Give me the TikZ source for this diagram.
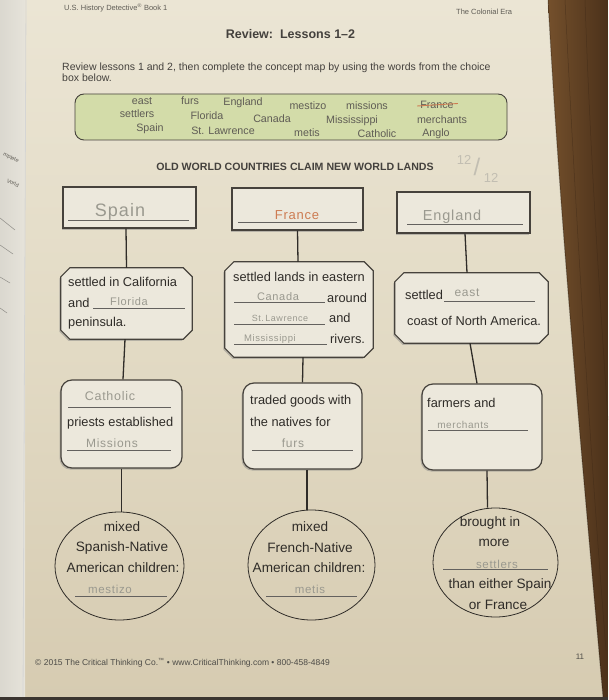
\documentclass[tikz,border=0pt]{standalone}
\usepackage{fontspec}
\setmainfont{Liberation Sans}
\newfontfamily\hwfont{Liberation Sans}[LetterSpace=6]
\usetikzlibrary{shapes.geometric,shadows}
\definecolor{papertop}{HTML}{EBE5D4}
\definecolor{papermid}{HTML}{E2DAC4}
\definecolor{paperbot}{HTML}{D6CBB1}
\definecolor{leftpage}{HTML}{E6E3DA}
\definecolor{ink}{HTML}{2F2C28}
\definecolor{grayink}{HTML}{5F5C55}
\definecolor{boxline}{HTML}{46423C}
\definecolor{boxfill}{HTML}{ECE8DC}
\definecolor{choicefill}{HTML}{D3DCA9}
\definecolor{pencil}{HTML}{9A998F}
\definecolor{lightpencil}{HTML}{C2BEB2}
\definecolor{orangehw}{HTML}{CD7C52}
\definecolor{wood}{HTML}{74502C}
\definecolor{wooddark}{HTML}{4B311A}
\definecolor{band}{HTML}{3B3530}
\newcommand\octpath[2]{%
  \draw[box] ([xshift=#2]#1.north west) -- ([xshift=-#2]#1.north east)
    -- ([yshift=-#2]#1.north east) -- ([yshift=#2]#1.south east)
    -- ([xshift=-#2]#1.south east) -- ([xshift=#2]#1.south west)
    -- ([yshift=#2]#1.south west) -- ([yshift=-#2]#1.north west) -- cycle;}
\begin{document}
\begin{tikzpicture}[x=1pt,y=-1pt,
  box/.style={draw=boxline, line width=1.2pt, fill=boxfill,
    drop shadow={shadow xshift=-1.4pt, shadow yshift=-1.6pt, opacity=0.45}},
  topbox/.style={box, rectangle, inner sep=0pt},
  anchorbox/.style={rectangle, inner sep=0pt},
  roundbox/.style={box, rectangle, rounded corners=11pt, inner sep=0pt},
  oval/.style={draw=ink, line width=0.8pt, ellipse, inner sep=0pt},
  conn/.style={draw=ink, line width=1.3pt},
  uline/.style={draw=ink!75, line width=0.6pt},
  bt/.style={inner sep=0pt, anchor=west, text=ink, font=\fontsize{12.8}{15}\selectfont},
  et/.style={inner sep=0pt, text=ink, font=\fontsize{13.6}{16}\selectfont},
  cw/.style={inner sep=0pt, text=grayink, font=\fontsize{10.7}{12}\selectfont},
  hw/.style={inner sep=0pt, text=pencil, font=\hwfont\fontsize{11}{12}\selectfont},
  small/.style={inner sep=0pt, anchor=west, text=grayink, font=\fontsize{7.5}{9}\selectfont}
]
\useasboundingbox (0,0) rectangle (608,700);
% page
\shade[top color=papertop, bottom color=paperbot, middle color=papermid] (0,0) rectangle (608,700);
\shade[left color=leftpage!95!black, right color=leftpage] (0,0) rectangle (25,700);
\draw[ink!20, line width=0.8pt] (26,0) -- (23,700);
\node[inner sep=0pt, rotate=-25, text=grayink, font=\fontsize{5.5}{6}\selectfont] (lp1) at (11,158) {mplete};
\node[inner sep=0pt, rotate=-25, text=grayink, font=\fontsize{5.5}{6}\selectfont] (lp2) at (13,183) {Vorld};
\draw[grayink!70, line width=0.5pt] (0,218) -- (15,230);
\draw[grayink!70, line width=0.5pt] (0,245) -- (13,254);
\draw[grayink!70, line width=0.5pt] (0,277) -- (10,283);
\draw[grayink!70, line width=0.5pt] (0,308) -- (7,313);
% wood
\shade[left color=wood, right color=wooddark] (548,0) .. controls (560,220) and (582,460) .. (603,697) -- (608,697) -- (608,0) -- cycle;
\draw[wooddark!80!black, line width=0.5pt, opacity=0.5] (565,0) .. controls (575,200) and (590,450) .. (606,650);
\draw[wooddark!80!black, line width=0.5pt, opacity=0.5] (585,0) .. controls (590,150) and (600,300) .. (608,420);
\draw[black, opacity=0.25, line width=1pt] (548,0) .. controls (560,220) and (582,460) .. (603,697);
\fill[band] (0,697) rectangle (608,700);

% header
\node[small] (hdr1) at (64,8) {U.S. History Detective\textsuperscript{®} Book 1};
\node[small] (hdr2) at (456,12) {The Colonial Era};
\node[inner sep=0pt, text=ink!90, font=\bfseries\fontsize{12.5}{14}\selectfont] (title) at (290.5,34) {Review:\ \ Lessons 1–2};
\node[inner sep=0pt, anchor=west, text=ink!90, font=\fontsize{10.5}{11}\selectfont] (ins1) at (62,68) {Review lessons 1 and 2, then complete the concept map by using the words from the choice};
\node[inner sep=0pt, anchor=west, text=ink!90, font=\fontsize{10.5}{11}\selectfont] (ins2) at (62,77.5) {box below.};

% choice box
\node[draw=boxline, line width=0.9pt, fill=choicefill, rounded corners=9pt, minimum width=432pt, minimum height=46pt, inner sep=0pt] (choice) at (291,117) {};
\node[cw] (w1) at (142,101) {east};
\node[cw] (w2) at (190,101) {furs};
\node[cw] (w3) at (243,103) {England};
\node[cw] (w4) at (308,106) {mestizo};
\node[cw] (w5) at (367,106) {missions};
\node[cw] (w6) at (437,105) {France};
\node[cw] (w7) at (137,114) {settlers};
\node[cw] (w8) at (207,116) {Florida};
\node[cw] (w9) at (272,119) {Canada};
\node[cw] (w10) at (352,121) {Mississippi};
\node[cw] (w11) at (442,120) {merchants};
\node[cw] (w12) at (150,129) {Spain};
\node[cw] (w13) at (223,131) {St. Lawrence};
\node[cw] (w14) at (307,133) {metis};
\node[cw] (w15) at (377,134) {Catholic};
\node[cw] (w16) at (436,134) {Anglo};
\draw[orangehw, line width=0.9pt] ([xshift=-3pt, yshift=-1pt]w6.west) -- ([xshift=4pt, yshift=1.5pt]w6.east);

\node[inner sep=0pt, text=ink!90, font=\bfseries\fontsize{10.6}{12}\selectfont] (sub) at (295,167) {OLD WORLD COUNTRIES CLAIM NEW WORLD LANDS};
\node[inner sep=0pt, text=lightpencil, font=\fontsize{13}{14}\selectfont] (sc1) at (464,160) {12};
\node[inner sep=0pt, text=lightpencil, font=\fontsize{24}{26}\selectfont] (sc2) at (477,167) {/};
\node[inner sep=0pt, text=lightpencil, font=\fontsize{13}{14}\selectfont] (sc3) at (491,178) {12};

% top boxes
\node[topbox, minimum width=133pt, minimum height=41pt] (spainT) at (129.5,207.5) {};
\node[topbox, minimum width=131pt, minimum height=42pt] (franceT) at (297.5,209) {};
\node[topbox, minimum width=133pt, minimum height=41pt] (englandT) at (463.5,212.5) {};
\draw[uline] (68,220) -- (189,220);
\draw[uline] (238,222) -- (357,222);
\draw[uline] (407,224) -- (523,224);
\node[hw, font=\hwfont\fontsize{18}{19}\selectfont] (hSpain) at (120,212) {Spain};
\node[hw, text=orangehw, font=\hwfont\fontsize{13}{14}\selectfont] (hFrance) at (297,215) {France};
\node[hw, font=\hwfont\fontsize{14.5}{15}\selectfont] (hEngland) at (452,217) {England};

% octagons
\node[anchorbox, minimum width=131pt, minimum height=71pt] (spainO) at (126.5,303.5) {};
\node[anchorbox, minimum width=148pt, minimum height=95pt] (franceO) at (299,309.5) {};
\node[anchorbox, minimum width=153pt, minimum height=70pt] (englandO) at (471.5,308) {};
\octpath{spainO}{9pt}
\octpath{franceO}{9pt}
\octpath{englandO}{9pt}

\node[bt] (so1) at (68,282) {settled in California};
\node[bt] (so2) at (68,303) {and};
\draw[uline] (93,308) -- (185,308);
\node[hw] (so2h) at (129,302) {Florida};
\node[bt] (so3) at (68,323) {peninsula.};

\node[bt] (fo1) at (233,277) {settled lands in eastern};
\draw[uline] (234,302) -- (325,302);
\node[hw] (fo2h) at (278,297) {Canada};
\node[bt] (fo2) at (327,298) {around};
\draw[uline] (234,324) -- (325,324);
\node[hw, font=\hwfont\fontsize{9}{10}\selectfont] (fo3h) at (280,318) {St.\,Lawrence};
\node[bt] (fo3) at (329,318) {and};
\draw[uline] (234,344) -- (327,344);
\node[hw, font=\hwfont\fontsize{9.5}{10}\selectfont] (fo4h) at (270,339) {Mississippi};
\node[bt] (fo4) at (330,339) {rivers.};

\node[bt] (eo1) at (405,295) {settled};
\draw[uline] (444,301) -- (535,301);
\node[hw, font=\hwfont\fontsize{12}{13}\selectfont] (eo1h) at (467,293) {east};
\node[bt] (eo2) at (407,321) {coast of North America.};

% rounded boxes
\node[roundbox, minimum width=121pt, minimum height=88pt] (spainR) at (121.5,424) {};
\node[roundbox, minimum width=119pt, minimum height=86pt] (franceR) at (302.5,426) {};
\node[roundbox, minimum width=120pt, minimum height=86pt] (englandR) at (482,427) {};

\draw[uline] (68,407) -- (171,407);
\node[hw, font=\hwfont\fontsize{12.5}{13}\selectfont] (sr1h) at (110,396) {Catholic};
\node[bt] (sr2) at (67,423) {priests established};
\draw[uline] (67,450) -- (171,450);
\node[hw, font=\hwfont\fontsize{12}{13}\selectfont] (sr3h) at (112,443) {Missions};

\node[bt] (fr1) at (250,401) {traded goods with};
\node[bt] (fr2) at (250,422) {the natives for};
\draw[uline] (252,450) -- (353,450);
\node[hw, font=\hwfont\fontsize{12}{13}\selectfont] (fr3h) at (293,443) {furs};

\node[bt] (er1) at (427,403) {farmers and};
\draw[uline] (428,430) -- (528,430);
\node[hw, font=\hwfont\fontsize{10}{11}\selectfont] (er2h) at (463,425) {merchants};

% ellipses
\node[oval, minimum width=129pt, minimum height=108pt] (spainE) at (119.5,566) {};
\node[oval, minimum width=127pt, minimum height=110pt] (franceE) at (311.5,565) {};
\node[oval, minimum width=125pt, minimum height=109pt] (englandE) at (495.5,562.5) {};

\node[et] (se1) at (122,527) {mixed};
\node[et] (se2) at (122,548) {Spanish-Native};
\node[et] (se3) at (123,568) {American children:};
\draw[uline] (75,596) -- (167,596);
\node[hw, font=\hwfont\fontsize{11.5}{12}\selectfont] (se4h) at (110,589) {mestizo};

\node[et] (fe1) at (310,527) {mixed};
\node[et] (fe2) at (310,548) {French-Native};
\node[et] (fe3) at (309,568) {American children:};
\draw[uline] (266,596) -- (357,596);
\node[hw, font=\hwfont\fontsize{11.5}{12}\selectfont] (fe4h) at (310,589) {metis};

\node[et] (ee1) at (490,523) {brought in};
\node[et] (ee2) at (494,543) {more};
\draw[uline] (443,569) -- (548,569);
\node[hw, font=\hwfont\fontsize{11.5}{12}\selectfont] (ee3h) at (497,564) {settlers};
\node[et] (ee4) at (500,585) {than either Spain};
\node[et] (ee5) at (498,605) {or France};

% connectors
\draw[conn] ([xshift=-3.5pt]spainT.south) -- (spainO.north);
\draw[conn] ([xshift=-1.5pt]spainO.south) -- ([xshift=1.5pt]spainR.north);
\draw[conn] (spainR.south) -- ([xshift=2pt]spainE.north);
\draw[conn] (franceT.south) -- ([xshift=-1pt]franceO.north);
\draw[conn] ([xshift=4pt]franceO.south) -- (franceR.north);
\draw[conn] ([xshift=4.5pt]franceR.south) -- ([xshift=-4.5pt]franceE.north);
\draw[conn] ([xshift=1.5pt]englandT.south) -- ([xshift=-4.5pt]englandO.north);
\draw[conn] ([xshift=-1.5pt]englandO.south) -- ([xshift=-5pt]englandR.north);
\draw[conn] ([xshift=5pt]englandR.south) -- ([xshift=-8pt]englandE.north);

% footer
\node[small, text=ink!85, font=\fontsize{8.5}{10}\selectfont] (foot) at (35,663) {© 2015 The Critical Thinking Co.\textsuperscript{™} • www.CriticalThinking.com • 800-458-4849};
\node[inner sep=0pt, text=ink!85, font=\fontsize{8}{9}\selectfont] (pg) at (580,657) {11};
\end{tikzpicture}
\end{document}
